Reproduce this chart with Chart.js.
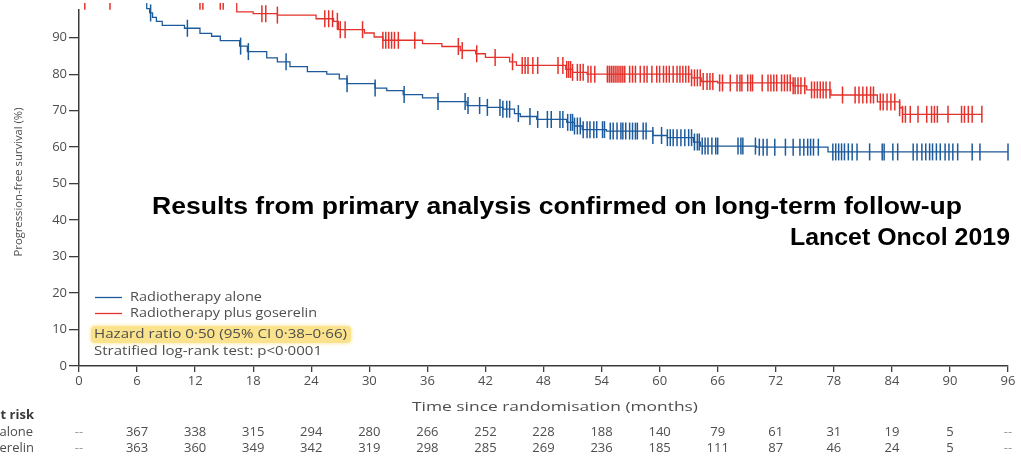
<!DOCTYPE html>
<html>
<head>
<meta charset="utf-8">
<script src="https://cdn.jsdelivr.net/npm/chart.js@4.4.1/dist/chart.umd.min.js"></script>
<style>
  html, body { margin: 0; padding: 0; background: #ffffff; }
  #wrap { width: 1021px; height: 466px; position: relative; }
</style>
</head>
<body>
<div id="wrap"><canvas id="c" width="1021" height="466"></canvas></div>
<script>
// ---------------- data ----------------
const monthTicks = [0, 6, 12, 18, 24, 30, 36, 42, 48, 54, 60, 66, 72, 78, 84, 90, 96];
const atRiskAlone = ['--', 367, 338, 315, 294, 280, 266, 252, 228, 188, 140, 79, 61, 31, 19, 5, '--'];
const atRiskGoserelin = ['--', 363, 360, 349, 342, 319, 298, 285, 269, 236, 185, 111, 87, 46, 24, 5, '--'];

// Radiotherapy alone (blue) – KM step points: time (months) and survival (%) after each step
const aloneTimes = [0, 7.0, 7.3, 7.6, 8.0, 8.6, 10.9, 12.5, 13.7, 14.6, 16.6, 17.4, 19.4, 20.5, 21.8, 23.6, 25.6, 26.9, 27.7, 30.6, 31.8, 33.5, 35.5, 37.1, 40.1, 42.2, 43.8, 45.0, 45.6, 47.3, 50.4, 51.2, 52.0, 54.5, 59.3, 60.8, 63.5, 64.2, 70.0, 77.4, 96];
const aloneSurv  = [100, 98.0, 96.8, 95.6, 94.5, 93.4, 92.6, 91.2, 90.4, 89.2, 87.7, 86.2, 84.5, 83.4, 82.1, 80.7, 80.0, 78.7, 77.4, 76.2, 75.5, 74.4, 73.5, 72.5, 71.4, 70.9, 70.4, 69.2, 68.4, 67.6, 66.8, 65.8, 64.8, 64.4, 63.2, 62.6, 61.4, 60.3, 60.0, 58.7, 58.7];
const aloneCensor = [7.4, 11.2, 16.7, 17.5, 21.4, 27.7, 30.6, 33.6, 37.1, 39.9, 40.2, 41.4, 42.2, 43.5, 43.8, 44.2, 44.5, 45.4, 46.6, 47.4, 48.4, 48.8, 49.7, 50.0, 50.5, 50.8, 51.0, 51.2, 51.5, 51.8, 52.1, 52.5, 52.8, 53.2, 53.5, 54.1, 54.3, 54.9, 55.2, 55.6, 56.0, 56.2, 56.5, 56.9, 57.2, 57.5, 57.7, 58.3, 58.6, 59.3, 60.2, 60.8, 61.1, 61.4, 61.8, 62.2, 62.6, 63.0, 63.3, 63.6, 63.9, 64.1, 64.4, 64.7, 65.0, 65.4, 65.8, 66.0, 68.1, 68.4, 68.6, 69.9, 70.3, 70.7, 71.1, 71.9, 73.0, 73.8, 74.5, 74.9, 75.3, 75.6, 75.9, 76.4, 77.9, 78.2, 78.5, 78.8, 79.1, 79.5, 79.9, 80.4, 81.7, 83.0, 83.2, 84.1, 84.6, 86.2, 86.6, 87.1, 87.5, 87.9, 88.2, 88.6, 89.0, 89.5, 89.9, 90.3, 90.8, 92.3, 93.1, 96.0];

// Radiotherapy plus goserelin (red)
const gosTimes = [0, 16.3, 18.0, 20.5, 24.5, 26.3, 26.8, 29.5, 30.5, 31.4, 35.5, 37.5, 39.4, 41.0, 42.0, 44.5, 45.2, 50.3, 51.0, 52.5, 63.3, 64.3, 66.0, 73.8, 75.2, 77.7, 82.5, 84.8, 85.1, 93.3];
const gosSurv  = [100, 97.1, 96.6, 96.2, 95.2, 94.5, 92.2, 91.3, 90.2, 89.3, 88.4, 87.6, 86.5, 85.6, 84.6, 83.4, 82.4, 81.3, 80.5, 80.0, 79.0, 78.0, 77.6, 76.8, 75.7, 74.3, 72.4, 70.8, 69.0, 69.0];
const gosCensor = [0.6, 3.2, 12.5, 12.8, 14.6, 14.9, 18.9, 19.3, 20.5, 25.4, 25.8, 26.2, 26.7, 27.0, 27.5, 29.3, 31.4, 31.7, 32.0, 32.3, 32.6, 33.0, 34.7, 39.2, 39.6, 41.1, 43.0, 44.8, 45.8, 46.1, 46.4, 46.9, 47.4, 49.5, 50.0, 50.4, 50.6, 50.8, 51.0, 51.5, 51.8, 52.1, 52.6, 52.9, 53.3, 54.6, 54.8, 55.0, 55.2, 55.4, 55.6, 55.8, 56.0, 56.2, 56.4, 56.9, 57.2, 57.5, 58.0, 58.4, 58.7, 59.2, 59.7, 60.0, 60.4, 60.7, 61.0, 61.4, 61.8, 62.1, 62.4, 62.7, 63.0, 63.3, 63.6, 63.9, 64.2, 64.5, 64.9, 65.2, 65.5, 66.2, 66.5, 67.3, 68.0, 68.3, 68.5, 69.1, 69.4, 69.6, 70.6, 71.2, 71.5, 71.8, 72.1, 72.6, 72.9, 73.2, 73.5, 73.8, 74.0, 74.3, 74.6, 75.0, 75.7, 76.0, 76.3, 76.6, 76.9, 77.2, 77.6, 78.9, 80.2, 80.6, 81.0, 81.4, 81.8, 82.1, 82.8, 83.1, 83.5, 83.9, 84.3, 84.8, 85.1, 85.4, 85.9, 86.7, 87.6, 88.1, 88.4, 88.7, 89.8, 91.2, 91.5, 91.9, 92.3, 93.3];

const BLUE = '#1d5a9b';
const RED = '#e4312b';
const TEXT = '#4e4e4e';
const AXIS = '#3c3c3c';

// --------------- helpers ---------------
function stepPoints(times, surv) { return times.map((t, i) => ({ x: t, y: surv[i] })); }
function survAt(times, surv, t) {
  let v = surv[0];
  for (let i = 0; i < times.length; i++) { if (times[i] <= t) v = surv[i]; }
  return v;
}
function censorPoints(cens, times, surv) { return cens.map(t => ({ x: t, y: survAt(times, surv, t) })); }

function fitText(ctx, text, x, y, w, align) {
  const m = ctx.measureText(text).width;
  const s = w / m;
  ctx.save();
  ctx.translate(x, y);
  ctx.scale(s, 1);
  ctx.textAlign = 'left';
  ctx.fillText(text, align === 'right' ? -m : (align === 'center' ? -m / 2 : 0), 0);
  ctx.restore();
}

const decorations = {
  id: 'decorations',
  afterDraw(chart) {
    const ctx = chart.ctx;
    const xs = chart.scales.x;
    ctx.save();
    // legend inside plot
    ctx.lineWidth = 1.3;
    ctx.strokeStyle = BLUE;
    ctx.beginPath(); ctx.moveTo(95, 297.5); ctx.lineTo(122, 297.5); ctx.stroke();
    ctx.strokeStyle = RED;
    ctx.beginPath(); ctx.moveTo(95, 313.5); ctx.lineTo(122, 313.5); ctx.stroke();

    ctx.fillStyle = TEXT;
    ctx.font = '13px "Open Sans"';
    ctx.textBaseline = 'middle';
    fitText(ctx, 'Radiotherapy alone', 130, 297, 132, 'left');
    fitText(ctx, 'Radiotherapy plus goserelin', 130, 313, 187, 'left');

    // highlight box
    ctx.save();
    ctx.fillStyle = '#fbe28c';
    ctx.shadowColor = '#fbe28c';
    ctx.shadowBlur = 4;
    ctx.beginPath();
    ctx.roundRect(91, 326, 260, 17, 4);
    ctx.fill();
    ctx.restore();

    ctx.fillStyle = TEXT;
    fitText(ctx, 'Hazard ratio 0·50 (95% CI 0·38–0·66)', 94, 334.5, 253, 'left');
    fitText(ctx, 'Stratified log-rank test: p<0·0001', 94, 351.5, 228, 'left');

    // axis titles
    ctx.font = '13px "Open Sans"';
    fitText(ctx, 'Time since randomisation (months)', 412, 407.5, 286, 'left');
    ctx.save();
    ctx.translate(19, 182);
    ctx.rotate(-Math.PI / 2);
    ctx.font = '11px "Open Sans"';
    fitText(ctx, 'Progression-free survival (%)', 0, 0, 149, 'center');
    ctx.restore();

    // numbers at risk
    ctx.font = 'bold 13px "Open Sans"';
    ctx.fillStyle = '#3a3a3a';
    ctx.textAlign = 'right';
    ctx.fillText('Number at risk', 34, 415);
    ctx.font = '13px "Open Sans"';
    ctx.fillStyle = TEXT;
    ctx.fillText('Radiotherapy alone', 33, 432);
    ctx.fillText('Radiotherapy plus goserelin', 34, 448);
    ctx.textAlign = 'center';
    monthTicks.forEach((m, i) => {
      const px = xs.getPixelForValue(m);
      ctx.fillStyle = atRiskAlone[i] === '--' ? '#9a9a9a' : TEXT;
      ctx.fillText(String(atRiskAlone[i]), px, 432);
      ctx.fillStyle = atRiskGoserelin[i] === '--' ? '#9a9a9a' : TEXT;
      ctx.fillText(String(atRiskGoserelin[i]), px, 448);
    });

    // headline texts
    ctx.fillStyle = '#000000';
    ctx.font = 'bold 23px "Liberation Sans", Arial, sans-serif';
    ctx.textBaseline = 'alphabetic';
    fitText(ctx, 'Results from primary analysis confirmed on long-term follow-up', 152, 214, 810, 'left');
    fitText(ctx, 'Lancet Oncol 2019', 1010, 245, 220, 'right');
    ctx.restore();
  }
};

const tickFont = { family: 'Open Sans', size: 13 };
const curveClip = { left: false, top: 7, right: false, bottom: false };

new Chart(document.getElementById('c'), {
  type: 'line',
  data: {
    datasets: [
      { label: 'Radiotherapy plus goserelin', data: stepPoints(gosTimes, gosSurv), borderColor: RED, borderWidth: 1.3, pointRadius: 0, stepped: true, fill: false, clip: curveClip, order: 2 },
      { label: 'Radiotherapy alone', data: stepPoints(aloneTimes, aloneSurv), borderColor: BLUE, borderWidth: 1.3, pointRadius: 0, stepped: true, fill: false, clip: curveClip, order: 1 },
      { label: 'gos censored', data: censorPoints(gosCensor, gosTimes, gosSurv), showLine: false, pointStyle: 'line', rotation: 90, pointRadius: 8.5, pointHoverRadius: 8.5, borderColor: RED, pointBorderColor: RED, pointBorderWidth: 1.5, clip: curveClip, order: 2 },
      { label: 'alone censored', data: censorPoints(aloneCensor, aloneTimes, aloneSurv), showLine: false, pointStyle: 'line', rotation: 90, pointRadius: 8.5, pointHoverRadius: 8.5, borderColor: BLUE, pointBorderColor: BLUE, pointBorderWidth: 1.5, clip: curveClip, order: 1 }
    ]
  },
  options: {
    responsive: false,
    animation: false,
    events: [],
    layout: { padding: { top: 8, right: 13, left: 0, bottom: 0 } },
    plugins: { legend: { display: false }, tooltip: { enabled: false } },
    scales: {
      x: {
        type: 'linear', min: 0, max: 96,
        ticks: { stepSize: 6, autoSkip: false, maxRotation: 0, font: tickFont, color: TEXT, padding: 1 },
        afterBuildTicks: s => { s.ticks = monthTicks.map(v => ({ value: v })); },
        grid: { drawOnChartArea: false, drawTicks: true, tickLength: 6, color: AXIS, lineWidth: 1.3 },
        border: { display: true, color: AXIS, width: 1.5 },
        afterFit: s => { s.height = 100; s.paddingLeft = 0; s.paddingRight = 0; }
      },
      y: {
        type: 'linear', min: 0, max: 97.6,
        ticks: { stepSize: 10, font: tickFont, color: TEXT, padding: 2 },
        afterBuildTicks: s => { s.ticks = s.ticks.filter(t => t.value % 10 === 0 && t.value <= 90); },
        grid: { drawOnChartArea: false, drawTicks: true, tickLength: 10, color: AXIS, lineWidth: 1.3 },
        border: { display: true, color: AXIS, width: 1.5 },
        afterFit: s => { s.width = 79; s.paddingTop = 0; s.paddingBottom = 0; }
      }
    }
  },
  plugins: [decorations]
});
</script>
</body>
</html>
